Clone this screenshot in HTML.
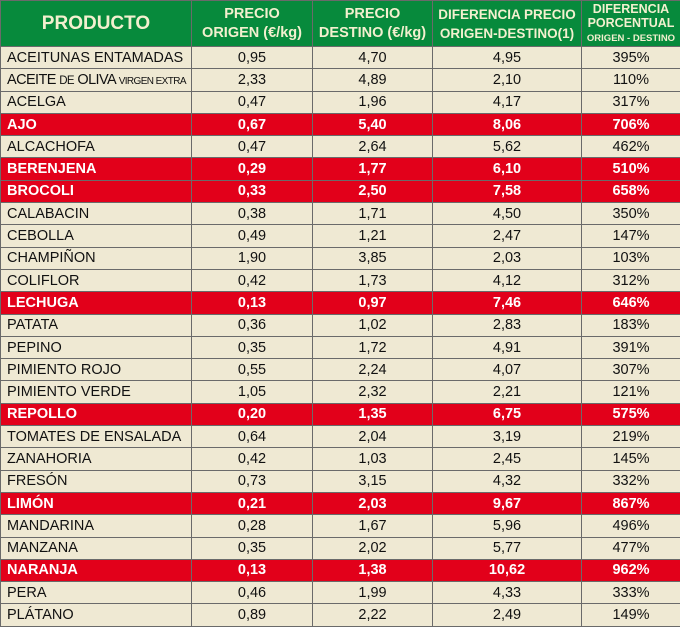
<!DOCTYPE html>
<html><head><meta charset="utf-8"><style>
html,body{margin:0;padding:0;background:#efe9d3;}
table{border-collapse:collapse;width:680px;table-layout:fixed;font-family:"Liberation Sans",Arial,sans-serif;}
td,th{border:1px solid #6a6a6a;padding:0;overflow:hidden;white-space:nowrap;}
th{background:#078a3c;color:#f3f0cf;font-weight:bold;height:45px;line-height:19px;font-size:14.5px;}
th.p{font-size:19px;}
td{height:21.3px;font-size:14.5px;color:#111;background:#efe9d3;text-align:center;}
td:first-child{text-align:left;padding-left:6px;}
tr.r td{background:#e2001a;color:#fff;font-weight:bold;}
.sm{font-size:10px;}
.xs{font-size:11.5px;}
</style></head><body>
<table>
<colgroup><col style="width:191px"><col style="width:121px"><col style="width:120px"><col style="width:149px"><col style="width:99px"></colgroup>
<tr><th class="p">PRODUCTO</th><th>PRECIO<br>ORIGEN (€/kg)</th><th>PRECIO<br>DESTINO (€/kg)</th><th style="font-size:13.5px;line-height:19px">DIFERENCIA PRECIO<br>ORIGEN-DESTINO(1)</th><th style="line-height:14px;font-size:12.5px">DIFERENCIA<br>PORCENTUAL<br><span style="font-size:9.5px">ORIGEN - DESTINO</span></th></tr>
<tr><td>ACEITUNAS ENTAMADAS</td><td>0,95</td><td>4,70</td><td>4,95</td><td>395%</td></tr>
<tr><td style="letter-spacing:-0.6px">ACEITE <span class="xs">DE</span> OLIVA <span class="sm">VIRGEN EXTRA</span></td><td>2,33</td><td>4,89</td><td>2,10</td><td>110%</td></tr>
<tr><td>ACELGA</td><td>0,47</td><td>1,96</td><td>4,17</td><td>317%</td></tr>
<tr class="r"><td>AJO</td><td>0,67</td><td>5,40</td><td>8,06</td><td>706%</td></tr>
<tr><td>ALCACHOFA</td><td>0,47</td><td>2,64</td><td>5,62</td><td>462%</td></tr>
<tr class="r"><td>BERENJENA</td><td>0,29</td><td>1,77</td><td>6,10</td><td>510%</td></tr>
<tr class="r"><td>BROCOLI</td><td>0,33</td><td>2,50</td><td>7,58</td><td>658%</td></tr>
<tr><td>CALABACIN</td><td>0,38</td><td>1,71</td><td>4,50</td><td>350%</td></tr>
<tr><td>CEBOLLA</td><td>0,49</td><td>1,21</td><td>2,47</td><td>147%</td></tr>
<tr><td>CHAMPIÑON</td><td>1,90</td><td>3,85</td><td>2,03</td><td>103%</td></tr>
<tr><td>COLIFLOR</td><td>0,42</td><td>1,73</td><td>4,12</td><td>312%</td></tr>
<tr class="r"><td>LECHUGA</td><td>0,13</td><td>0,97</td><td>7,46</td><td>646%</td></tr>
<tr><td>PATATA</td><td>0,36</td><td>1,02</td><td>2,83</td><td>183%</td></tr>
<tr><td>PEPINO</td><td>0,35</td><td>1,72</td><td>4,91</td><td>391%</td></tr>
<tr><td>PIMIENTO ROJO</td><td>0,55</td><td>2,24</td><td>4,07</td><td>307%</td></tr>
<tr><td>PIMIENTO VERDE</td><td>1,05</td><td>2,32</td><td>2,21</td><td>121%</td></tr>
<tr class="r"><td>REPOLLO</td><td>0,20</td><td>1,35</td><td>6,75</td><td>575%</td></tr>
<tr><td>TOMATES DE ENSALADA</td><td>0,64</td><td>2,04</td><td>3,19</td><td>219%</td></tr>
<tr><td>ZANAHORIA</td><td>0,42</td><td>1,03</td><td>2,45</td><td>145%</td></tr>
<tr><td>FRESÓN</td><td>0,73</td><td>3,15</td><td>4,32</td><td>332%</td></tr>
<tr class="r"><td>LIMÓN</td><td>0,21</td><td>2,03</td><td>9,67</td><td>867%</td></tr>
<tr><td>MANDARINA</td><td>0,28</td><td>1,67</td><td>5,96</td><td>496%</td></tr>
<tr><td>MANZANA</td><td>0,35</td><td>2,02</td><td>5,77</td><td>477%</td></tr>
<tr class="r"><td>NARANJA</td><td>0,13</td><td>1,38</td><td>10,62</td><td>962%</td></tr>
<tr><td>PERA</td><td>0,46</td><td>1,99</td><td>4,33</td><td>333%</td></tr>
<tr><td>PLÁTANO</td><td>0,89</td><td>2,22</td><td>2,49</td><td>149%</td></tr>
</table>
</body></html>
